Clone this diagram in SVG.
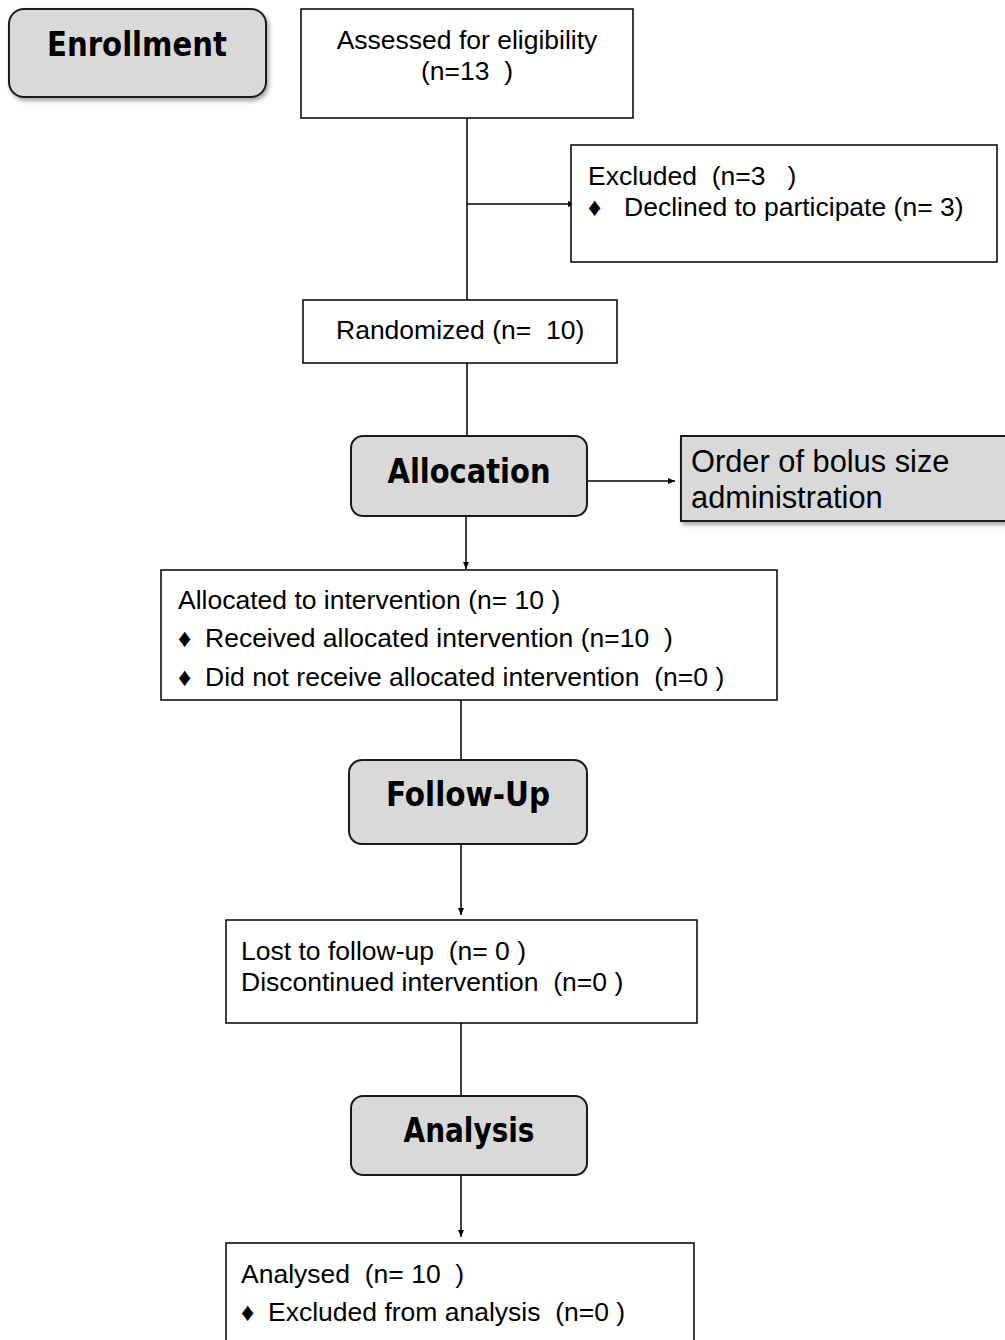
<svg xmlns="http://www.w3.org/2000/svg" width="1005" height="1340" viewBox="0 0 1005 1340">
<style>
.box{fill:#fff;stroke:#000;stroke-width:1.5}
.stage{fill:#d9d9d9;stroke:#1a1a1a;stroke-width:2}
.t{font-family:"Liberation Sans",Arial,sans-serif;font-size:26.5px;fill:#000}
.d{font-family:"Liberation Sans",Arial,sans-serif;font-size:26px;fill:#000}
.h{font-family:"DejaVu Sans Condensed","DejaVu Sans",sans-serif;font-weight:bold;font-size:34px;fill:#000}
.big{font-family:"Liberation Sans",Arial,sans-serif;font-size:30.8px;fill:#000}
.ln{stroke:#000;stroke-width:1.5;fill:none}
</style>
<defs>
<marker id="arr" markerWidth="8" markerHeight="8" refX="7" refY="4" orient="auto" markerUnits="userSpaceOnUse">
<path d="M0,1 L7,4 L0,7 Z" fill="#000"/>
</marker>
<filter id="sh" x="-10%" y="-10%" width="125%" height="135%">
<feDropShadow dx="2" dy="3" stdDeviation="2" flood-color="#000" flood-opacity="0.35"/>
</filter>
</defs>
<rect width="1005" height="1340" fill="#fff"/>
<g id="connectors">
<line class="ln" x1="467" y1="118" x2="467" y2="300"/>
<line class="ln" x1="467" y1="204" x2="575" y2="204" marker-end="url(#arr)"/>
<line class="ln" x1="467" y1="363" x2="467" y2="436"/>
<line class="ln" x1="587" y1="481" x2="675" y2="481" marker-end="url(#arr)"/>
<line class="ln" x1="466" y1="516" x2="466" y2="569" marker-end="url(#arr)"/>
<line class="ln" x1="461" y1="700" x2="461" y2="760"/>
<line class="ln" x1="461" y1="844" x2="461" y2="915" marker-end="url(#arr)"/>
<line class="ln" x1="461" y1="1023" x2="461" y2="1096"/>
<line class="ln" x1="461" y1="1175" x2="461" y2="1237" marker-end="url(#arr)"/>
</g>
<g id="enrollment">
<rect class="stage" x="9" y="9" width="257" height="88" rx="15" filter="url(#sh)"/>
<text class="h" x="137" y="56" text-anchor="middle" textLength="180" lengthAdjust="spacingAndGlyphs">Enrollment</text>
</g>
<g id="assessed">
<rect class="box" x="301" y="9" width="332" height="109"/>
<text class="t" x="467" y="49" text-anchor="middle">Assessed for eligibility</text>
<text class="t" x="467" y="80" text-anchor="middle" xml:space="preserve">(n=13  )</text>
</g>
<g id="excluded">
<rect class="box" x="571" y="145" width="426" height="117"/>
<text class="t" x="588" y="185" xml:space="preserve">Excluded  (n=3   )</text>
<text class="d" x="588" y="216">♦</text>
<text class="t" x="624" y="216">Declined to participate (n= 3)</text>
</g>
<g id="randomized">
<rect class="box" x="303" y="300" width="314" height="63"/>
<text class="t" x="336" y="339" xml:space="preserve">Randomized (n=  10)</text>
</g>
<g id="allocation">
<rect class="stage" x="351" y="436" width="236" height="80" rx="12"/>
<text class="h" x="469" y="483" text-anchor="middle" textLength="163" lengthAdjust="spacingAndGlyphs">Allocation</text>
</g>
<g id="order">
<rect class="stage" x="681" y="436" width="330" height="85" filter="url(#sh)"/>
<text class="big" x="691" y="472">Order of bolus size</text>
<text class="big" x="691" y="508">administration</text>
</g>
<g id="allocated">
<rect class="box" x="161" y="570" width="616" height="130"/>
<text class="t" x="178" y="609">Allocated to intervention (n= 10 )</text>
<text class="d" x="178" y="647">♦</text>
<text class="t" x="205" y="647" xml:space="preserve">Received allocated intervention (n=10  )</text>
<text class="d" x="178" y="686">♦</text>
<text class="t" x="205" y="686" xml:space="preserve">Did not receive allocated intervention  (n=0 )</text>
</g>
<g id="followup">
<rect class="stage" x="349" y="760" width="238" height="84" rx="13"/>
<text class="h" x="468" y="806" text-anchor="middle" textLength="164" lengthAdjust="spacingAndGlyphs">Follow-Up</text>
</g>
<g id="lost">
<rect class="box" x="226" y="920" width="471" height="103"/>
<text class="t" x="241" y="960" xml:space="preserve">Lost to follow-up  (n= 0 )</text>
<text class="t" x="241" y="991" xml:space="preserve">Discontinued intervention  (n=0 )</text>
</g>
<g id="analysis">
<rect class="stage" x="351" y="1096" width="236" height="79" rx="12"/>
<text class="h" x="469" y="1142" text-anchor="middle" textLength="131" lengthAdjust="spacingAndGlyphs">Analysis</text>
</g>
<g id="analysed">
<rect class="box" x="226" y="1243" width="468" height="110"/>
<text class="t" x="241" y="1283" xml:space="preserve">Analysed  (n= 10  )</text>
<text class="d" x="241" y="1321">♦</text>
<text class="t" x="268" y="1321" xml:space="preserve">Excluded from analysis  (n=0 )</text>
</g>
</svg>
